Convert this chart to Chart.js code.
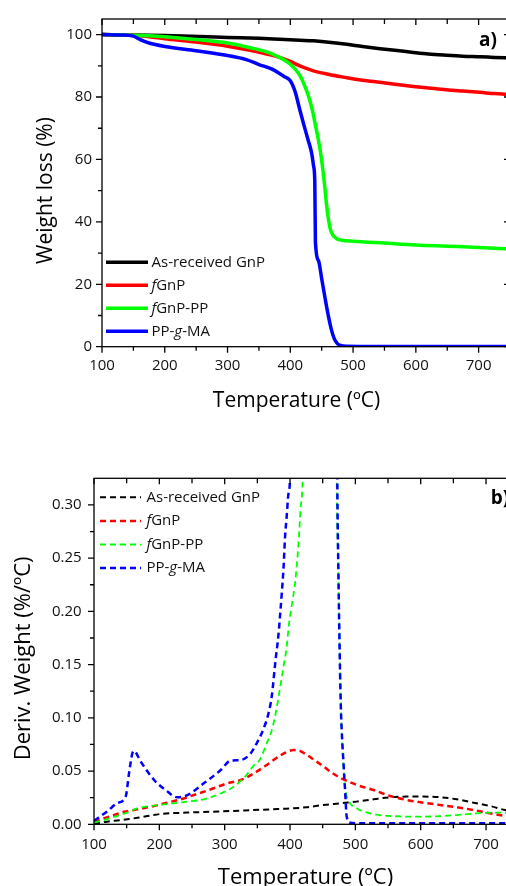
<!DOCTYPE html>
<html><head><meta charset="utf-8">
<script src="https://cdn.jsdelivr.net/npm/chart.js@4.4.0/dist/chart.umd.min.js"></script>
<style>
html,body{margin:0;padding:0;width:506px;height:886px;overflow:hidden;background:#fff;}
#wa{position:absolute;left:0;top:0;}
#wb{position:absolute;left:0;top:420px;}
canvas{display:block;}
</style></head><body>
<div id="wa"><canvas id="ca" width="520" height="420"></canvas></div>
<div id="wb"><canvas id="cb" width="530" height="466"></canvas></div>
<script>
// ---------- shared ----------
const seriesNames = ['As-received GnP', 'fGnP', 'fGnP-PP', 'PP-g-MA'];
const tempTicks = [100, 200, 300, 400, 500, 600, 700];
const tempMinorTicks = [150, 250, 350, 450, 550, 650];
const tgaTicks = [0, 20, 40, 60, 80, 100];
const tgaMinorTicks = [10, 30, 50, 70, 90];
const dtgTicks = [0, 0.05, 0.10, 0.15, 0.20, 0.25, 0.30];
const dtgMinorTicks = [0.025, 0.075, 0.125, 0.175, 0.225, 0.275];

// ---------- a) TGA weight loss (%) ----------
const tgaTempBlack = [100,150,200,256,300,350,383,415,437,465,490,515,543,570,596,620,649,675,702,725,750];
const tgaWeightBlack = [100,99.9,99.7,99.4,99.1,98.8,98.5,98.2,98.0,97.5,96.9,96.2,95.5,94.9,94.3,93.8,93.4,93.1,92.9,92.7,92.5];

const tgaTempRed = [100,150,175,200,250,300,336,362,383,400,415,437,460,490,515,543,570,596,620,649,675,702,725,750];
const tgaWeightRed = [100,99.8,99.3,98.7,97.6,96.3,95.0,93.8,92.7,91.4,90.0,88.4,87.3,86.2,85.4,84.7,84.0,83.4,82.9,82.3,81.9,81.5,81.1,80.8];

const tgaTempGreen = [100,150,175,200,250,300,336,360,380,400,415,425,431,436,440,444,448,452,455,458,461,464,468,474,482,500,550,600,650,700,750];
const tgaWeightGreen = [100,99.8,99.6,99.3,98.4,97.3,95.8,94.6,93.0,90.5,87.0,82.5,79.0,75.0,71.0,67.0,62.5,56.5,51.0,45.0,40.5,37.5,35.7,34.6,34.1,33.8,33.2,32.6,32.2,31.8,31.3];

const tgaTempBlue = [100,130,150,160,175,200,250,300,330,350,370,390,400,408,415,421,428,434,437,439,440,445,450,455,460,465,470,475,480,490,520,750];
const tgaWeightBlue = [100,99.9,99.5,98.5,97.3,96.2,94.8,93.3,92.0,90.4,89.0,86.6,85.2,81.5,76.0,71.5,66.5,62.0,58.0,53.0,33.5,27.5,21.8,16.0,10.5,5.8,2.6,1.0,0.4,0.15,0.1,0.1];

// ---------- b) DTG deriv. weight (%/ºC) ----------
const dtgTempBlack = [100,120,151,176,202,243,279,330,381,400,425,451,477,502,528,553,579,604,630,655,681,706,729,750];
const dtgDerivBlack = [0.0005,0.0025,0.0047,0.0071,0.0097,0.0110,0.0118,0.0130,0.0143,0.0148,0.0160,0.0181,0.0197,0.0213,0.0235,0.0254,0.0260,0.0260,0.0254,0.0235,0.0203,0.0172,0.0134,0.0110];

const dtgTempRed = [100,115,131,146,161,187,212,233,253,279,304,325,345,365,386,406,415,425,438,451,464,477,490,502,528,553,579,604,630,655,681,706,729,750];
const dtgDerivRed = [0.0025,0.0056,0.0087,0.0118,0.0134,0.0165,0.0203,0.0235,0.0275,0.0329,0.0385,0.0416,0.0480,0.0560,0.0650,0.0697,0.0690,0.0655,0.0600,0.0545,0.0485,0.0435,0.0400,0.0370,0.0322,0.0266,0.0228,0.0203,0.0181,0.0160,0.0134,0.0103,0.0078,0.0060];

const dtgTempGreen = [100,115,131,151,166,187,212,243,268,294,314,333,344,354,365,372,380,385,390,395,398,403,408,413,416,419.4,430,445,455,465,471.5,474,476.6,479,481.6,484.2,489.3,502,522.5,553,604,655,686,716,750];
const dtgDerivGreen = [0.0015,0.004,0.007,0.011,0.015,0.0172,0.019,0.0213,0.0235,0.029,0.0354,0.046,0.055,0.061,0.077,0.088,0.1105,0.129,0.148,0.167,0.186,0.207,0.228,0.264,0.295,0.325,0.7,1.5,2.0,1.2,0.325,0.239,0.145,0.09,0.057,0.035,0.0228,0.015,0.0103,0.0078,0.0072,0.0087,0.0103,0.011,0.0095];

const dtgTempBlue = [100,120,136,148.5,153.6,158.7,161,171.5,192,210,227.5,243,268,294,309,324.5,339,349,359,367,372,378,382,385,387.5,390,392.4,395,397.5,400,410,425,440,455,468,472.4,474,475.6,477.6,479,481.6,484,486.8,491.8,500,600,750];
const dtgDerivBlue = [0.0034,0.012,0.020,0.026,0.048,0.0667,0.069,0.0589,0.0416,0.032,0.0254,0.0275,0.0385,0.051,0.0598,0.0604,0.066,0.076,0.089,0.104,0.12,0.155,0.176,0.198,0.218,0.24,0.27,0.29,0.31,0.325,0.8,2.0,5.0,2.5,0.9,0.325,0.239,0.176,0.114,0.09,0.06,0.035,0.007,0.0015,0.001,0.001,0.001];

// ---------- helpers ----------
const FONT = "'Open Sans', sans-serif";
function pts(xs, ys) { return xs.map((t, i) => ({ x: t, y: ys[i] })); }

function richParts(s) {
  const parts = []; const re = /(^f(?=GnP))|((?<=-)g(?=-))/g; let last = 0, m;
  while ((m = re.exec(s))) {
    if (m.index > last) parts.push({ t: s.slice(last, m.index), it: false });
    parts.push({ t: m[0], it: true }); last = m.index + m[0].length;
  }
  if (last < s.length) parts.push({ t: s.slice(last), it: false });
  return parts;
}

const framePlugin = {
  id: 'frame',
  afterDatasetsDraw(chart, args, o) {
    const { ctx, chartArea: a } = chart;
    const xs = chart.scales.x, ys = chart.scales.y;
    ctx.save();
    ctx.setLineDash([]);
    ctx.strokeStyle = '#000'; ctx.lineWidth = 1.3;
    ctx.strokeRect(a.left, a.top, a.right - a.left, a.bottom - a.top);
    ctx.beginPath();
    const tk = (px, py, dx, dy) => { ctx.moveTo(px, py); ctx.lineTo(px + dx, py + dy); };
    xs.ticks.forEach(t => { const p = xs.getPixelForValue(t.value); tk(p, a.bottom, 0, 6); tk(p, a.top, 0, 6); });
    o.xMinor.forEach(v => { const p = xs.getPixelForValue(v); tk(p, a.bottom, 0, 4); tk(p, a.top, 0, 5); });
    ys.ticks.forEach(t => { const p = ys.getPixelForValue(t.value); tk(a.left, p, -6, 0); tk(a.right, p, -6, 0); });
    o.yMinor.forEach(v => { const p = ys.getPixelForValue(v); tk(a.left, p, -4, 0); tk(a.right, p, -4, 0); });
    ctx.stroke();

    // axis titles
    ctx.fillStyle = '#000';
    ctx.textBaseline = 'alphabetic'; ctx.textAlign = 'center';
    ctx.font = o.titleSize + 'px ' + FONT;
    ctx.fillText(o.xTitle, o.xTitleX, o.xTitleY);
    ctx.save(); ctx.translate(o.yTitleX, o.yTitleY); ctx.rotate(-Math.PI / 2);
    ctx.fillText(o.yTitle, 0, 0); ctx.restore();

    // panel label
    ctx.textAlign = 'left';
    ctx.font = 'bold ' + o.panelSize + 'px ' + FONT;
    ctx.fillText(o.panel, o.panelX, o.panelY);

    // legend
    const lg = o.legend;
    chart.data.datasets.forEach((ds, i) => {
      const yy = lg.y0 + i * lg.dy;
      ctx.strokeStyle = ds.borderColor; ctx.lineWidth = ds.borderWidth;
      ctx.setLineDash(ds.borderDash || []);
      ctx.beginPath(); ctx.moveTo(lg.x1, yy); ctx.lineTo(lg.x2, yy); ctx.stroke();
      ctx.setLineDash([]);
      ctx.fillStyle = '#111'; ctx.textBaseline = 'middle'; ctx.textAlign = 'left';
      let x = lg.textX;
      richParts(ds.label).forEach(p => {
        ctx.font = (p.it ? 'italic ' : '') + lg.size + 'px ' + FONT;
        ctx.fillText(p.t, x, yy);
        x += ctx.measureText(p.t).width;
      });
    });
    ctx.restore();
  }
};

function makeChart(id, c) {
  return new Chart(document.getElementById(id), {
    type: 'line',
    data: { datasets: c.datasets },
    options: {
      responsive: false, animation: false, devicePixelRatio: 1,
      layout: { padding: c.padding },
      elements: { point: { radius: 0 }, line: { cubicInterpolationMode: 'monotone', fill: false } },
      plugins: { legend: { display: false }, tooltip: { enabled: false }, frame: c.frame },
      scales: {
        x: {
          type: 'linear', min: 100, max: 750,
          grid: { display: false, drawTicks: false }, border: { display: false },
          afterBuildTicks: s => { s.ticks = tempTicks.map(v => ({ value: v })); },
          afterFit: s => { s.height = c.xHeight; },
          ticks: { padding: c.xPad, color: '#111', font: { family: FONT, size: 15 }, autoSkip: false, maxRotation: 0, callback: v => String(v) }
        },
        y: {
          type: 'linear', min: c.yMin, max: c.yMax,
          grid: { display: false, drawTicks: false }, border: { display: false },
          afterBuildTicks: s => { s.ticks = c.yTicks.map(v => ({ value: v })); },
          afterFit: s => { s.width = c.yWidth; },
          ticks: { padding: c.yPad, color: '#111', font: { family: FONT, size: 15 }, autoSkip: false, callback: c.yFmt }
        }
      }
    },
    plugins: [framePlugin]
  });
}

function draw() {
  // ---- chart a ----
  makeChart('ca', {
    padding: { top: 18.3, right: 10, left: 0, bottom: 0 },
    xHeight: 73.3, yWidth: 102, xPad: 10, yPad: 10,
    yMin: 0, yMax: 105, yTicks: tgaTicks, yFmt: v => String(v),
    datasets: [
      { label: seriesNames[0], data: pts(tgaTempBlack, tgaWeightBlack), borderColor: '#000000', borderWidth: 3.5, order: 3 },
      { label: seriesNames[1], data: pts(tgaTempRed, tgaWeightRed), borderColor: '#ff0000', borderWidth: 3.5, order: 2 },
      { label: seriesNames[2], data: pts(tgaTempGreen, tgaWeightGreen), borderColor: '#00ff00', borderWidth: 3.5, order: 1 },
      { label: seriesNames[3], data: pts(tgaTempBlue, tgaWeightBlue), borderColor: '#0000ff', borderWidth: 3.5, order: 0 }
    ],
    frame: {
      xMinor: tempMinorTicks, yMinor: tgaMinorTicks,
      xTitle: 'Temperature (ºC)', xTitleX: 296.5, xTitleY: 406.5,
      yTitle: 'Weight loss (%)', yTitleX: 52, yTitleY: 190.5, titleSize: 21,
      panel: 'a)', panelX: 479, panelY: 45.5, panelSize: 19,
      legend: { x1: 106, x2: 148, textX: 151.5, y0: 262.3, dy: 23, size: 15 }
    }
  });
  // ---- chart b ----
  makeChart('cb', {
    padding: { top: 58.3, right: 11.3, left: 0, bottom: 0 },
    xHeight: 61.7, yWidth: 94, xPad: 11.7, yPad: 12.3,
    yMin: 0, yMax: 0.325, yTicks: dtgTicks, yFmt: v => Number(v).toFixed(2),
    datasets: [
      { label: seriesNames[0], data: pts(dtgTempBlack, dtgDerivBlack), borderColor: '#000000', borderWidth: 2, borderDash: [6, 4], order: 3 },
      { label: seriesNames[1], data: pts(dtgTempRed, dtgDerivRed), borderColor: '#ff0000', borderWidth: 2.5, borderDash: [6, 4], order: 2 },
      { label: seriesNames[2], data: pts(dtgTempGreen, dtgDerivGreen), borderColor: '#00ff00', borderWidth: 1.8, borderDash: [6, 4], order: 1 },
      { label: seriesNames[3], data: pts(dtgTempBlue, dtgDerivBlue), borderColor: '#0000ff', borderWidth: 2.5, borderDash: [6, 4], order: 0 }
    ],
    frame: {
      xMinor: tempMinorTicks, yMinor: dtgMinorTicks,
      xTitle: 'Temperature (ºC)', xTitleX: 305.5, xTitleY: 463.7,
      yTitle: 'Deriv. Weight (%/ºC)', yTitleX: 30, yTitleY: 238.4, titleSize: 22,
      panel: 'b)', panelX: 490.7, panelY: 84, panelSize: 19,
      legend: { x1: 100, x2: 141, textX: 146.5, y0: 77.3, dy: 23.6, size: 15 }
    }
  });
}

const fontLoads = [
  document.fonts.load("15px 'Open Sans'"),
  document.fonts.load("italic 15px 'Open Sans'"),
  document.fonts.load("bold 19px 'Open Sans'")
];
Promise.all(fontLoads).then(draw, draw);
</script>
</body></html>
